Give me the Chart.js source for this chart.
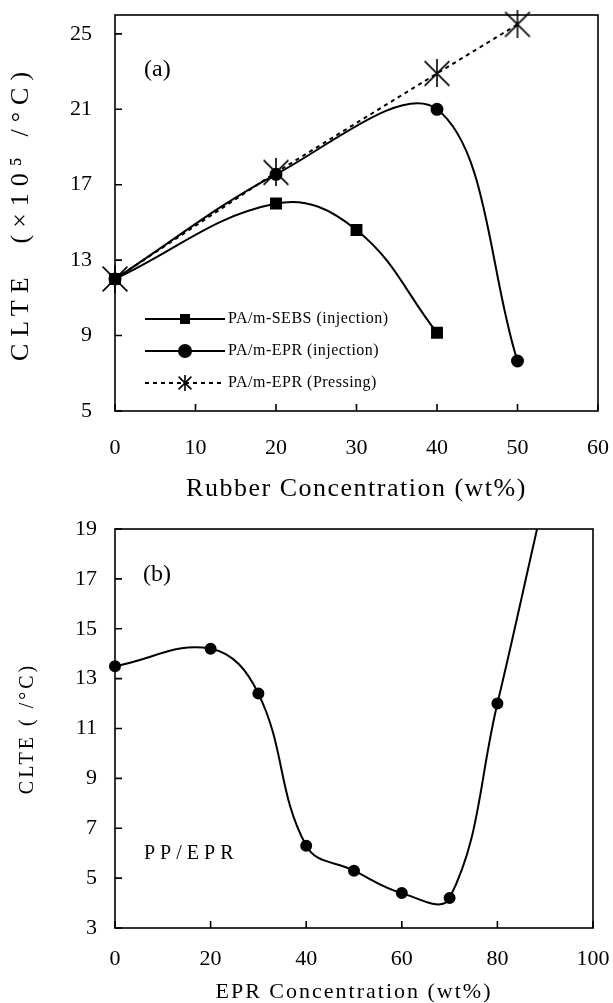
<!DOCTYPE html>
<html>
<head>
<meta charset="utf-8">
<script src="https://cdn.jsdelivr.net/npm/chart.js@4.4.0/dist/chart.umd.min.js"></script>
<style>
  body { margin: 0; background: #fff; overflow: hidden; }
  canvas { position: absolute; left: 0; }
  #chartA { top: 0; }
  #chartB { top: 505px; }
</style>
</head>
<body>
<canvas id="chartA" width="613" height="510"></canvas>
<canvas id="chartB" width="613" height="505"></canvas>
<script>
// (a) rubber content in PA blends
const sebsX = [0, 20, 30, 40];
const sebsY = [12.0, 16.0, 14.6, 9.15];
const eprInjX = [0, 20, 40, 50];
const eprInjY = [12.0, 17.55, 21.0, 7.65];
const eprPressX = [0, 20, 40, 50];
const eprPressY = [12.0, 17.65, 22.9, 25.5];
const clteTicksA = [5, 9, 13, 17, 21, 25];

// (b) PP/EPR; last point is where the curve leaves the frame
const eprConc = [0, 20, 30, 40, 50, 60, 70, 80, 88.3];
const ppEprClte = [13.5, 14.2, 12.4, 6.3, 5.3, 4.4, 4.2, 12.0, 19.0];

const serif = 'Liberation Serif';
const toXY = (xs, ys) => xs.map((x, i) => ({ x, y: ys[i] }));

function asterisk(size, lw) {
    const c = document.createElement('canvas');
    c.width = size;
    c.height = size;
    const g = c.getContext('2d');
    const m = lw;
    g.strokeStyle = '#000';
    g.lineWidth = lw;
    g.beginPath();
    g.moveTo(m, m); g.lineTo(size - m, size - m);
    g.moveTo(size - m, m); g.lineTo(m, size - m);
    g.moveTo(size / 2, 0); g.lineTo(size / 2, size);
    g.stroke();
    return c;
}

// draws title text with some tracking, like the scanned figure
function tracked(px) {
    return function (scale) {
        if (scale._tracked) return;
        const orig = scale.drawTitle.bind(scale);
        scale.drawTitle = function () {
            scale.ctx.letterSpacing = px;
            orig();
            scale.ctx.letterSpacing = '0px';
        };
        scale._tracked = true;
    };
}

// fixed axis sizes, no extra room for edge labels
function fixSize(w, h) {
    return function (s) {
        if (w) s.width = w;
        if (h) s.height = h;
        s.paddingLeft = s.paddingRight = s.paddingTop = s.paddingBottom = 0;
    };
}

const framePlugin = {
    id: 'frame',
    beforeDatasetsDraw(chart) {
        const { ctx, chartArea: a, scales } = chart;
        ctx.save();
        ctx.strokeStyle = '#000';
        ctx.lineWidth = 1.6;
        ctx.strokeRect(a.left, a.top, a.right - a.left, a.bottom - a.top);
        ctx.beginPath();
        scales.x.ticks.forEach(t => {
            const px = scales.x.getPixelForValue(t.value);
            ctx.moveTo(px, a.bottom);
            ctx.lineTo(px, a.bottom - 7);
        });
        scales.y.ticks.forEach(t => {
            const py = scales.y.getPixelForValue(t.value);
            ctx.moveTo(a.left, py);
            ctx.lineTo(a.left + 7, py);
        });
        ctx.stroke();
        ctx.restore();
    }
};

const notesPlugin = {
    id: 'notes',
    afterDraw(chart, args, opts) {
        const { ctx, chartArea: a } = chart;
        ctx.save();
        ctx.fillStyle = '#000';
        ctx.textBaseline = 'middle';
        (opts.items || []).forEach(n => {
            ctx.font = n.font;
            ctx.letterSpacing = n.spacing || '0px';
            ctx.fillText(n.text, a.left + n.dx, a.top + n.dy);
        });
        ctx.restore();
    }
};

// legend drawn inside plot (a): line, marker in the middle, label
const inlineLegend = {
    id: 'inlineLegend',
    afterDraw(chart, args, opts) {
        const { ctx, chartArea: a } = chart;
        ctx.save();
        ctx.font = '16px "' + serif + '"';
        ctx.textBaseline = 'middle';
        ctx.letterSpacing = '0.5px';
        chart.data.datasets.forEach((ds, i) => {
            const y = a.top + opts.top + i * opts.gap;
            const x0 = a.left + opts.left;
            const x1 = x0 + opts.lineLen;
            const xm = (x0 + x1) / 2;
            ctx.strokeStyle = '#000';
            ctx.fillStyle = '#000';
            ctx.lineWidth = 2;
            ctx.setLineDash(ds.borderDash || []);
            ctx.beginPath();
            ctx.moveTo(x0, y);
            ctx.lineTo(x1, y);
            ctx.stroke();
            ctx.setLineDash([]);
            if (ds.pointStyle === 'rect') {
                ctx.fillRect(xm - 5, y - 5, 10, 10);
            } else if (ds.pointStyle === 'circle') {
                ctx.beginPath();
                ctx.arc(xm, y, 7, 0, Math.PI * 2);
                ctx.fill();
            } else {
                ctx.drawImage(opts.star, xm - 8, y - 8);
            }
            ctx.fillText(ds.label, x1 + 3, y);
        });
        ctx.restore();
    }
};

const tickFont = { family: serif, size: 22 };

new Chart(document.getElementById('chartA'), {
    type: 'line',
    data: {
        datasets: [{
            label: 'PA/m-SEBS (injection)',
            data: toXY(sebsX, sebsY),
            borderColor: '#000',
            backgroundColor: '#000',
            borderWidth: 2,
            pointStyle: 'rect',
            pointRadius: 7,
            tension: 0.4
        }, {
            label: 'PA/m-EPR (injection)',
            data: toXY(eprInjX, eprInjY),
            borderColor: '#000',
            backgroundColor: '#000',
            borderWidth: 2,
            pointStyle: 'circle',
            pointRadius: 5.5,
            tension: 0.35
        }, {
            label: 'PA/m-EPR (Pressing)',
            data: toXY(eprPressX, eprPressY),
            borderColor: '#000',
            backgroundColor: '#000',
            borderWidth: 2,
            borderDash: [4, 4],
            pointStyle: asterisk(28, 1.6),
            tension: 0
        }]
    },
    options: {
        responsive: false,
        animation: false,
        events: [],
        clip: false,
        layout: { autoPadding: false, padding: { left: 0, top: 15, right: 15, bottom: 0 } },
        plugins: {
            legend: { display: false },
            tooltip: { enabled: false },
            notes: { items: [{ text: '(a)', font: '24px "' + serif + '"', dx: 29, dy: 55 }] },
            inlineLegend: { left: 30, top: 304, gap: 32, lineLen: 80, star: asterisk(16, 1.6) }
        },
        scales: {
            x: {
                type: 'linear',
                min: 0,
                max: 60,
                afterFit: fixSize(0, 99),
                afterUpdate: tracked('1.5px'),
                grid: { display: false },
                border: { display: false },
                ticks: { stepSize: 10, color: '#000', font: tickFont, padding: 16, maxRotation: 0, autoSkip: false },
                title: {
                    display: true,
                    text: 'Rubber Concentration (wt%)',
                    color: '#000',
                    font: { family: serif, size: 26 },
                    padding: { top: 0, bottom: 5 }
                }
            },
            y: {
                min: 5,
                max: 26,
                afterFit: fixSize(115, 0),
                afterUpdate: tracked('7px'),
                afterBuildTicks: s => { s.ticks = clteTicksA.map(v => ({ value: v })); },
                grid: { display: false },
                border: { display: false },
                ticks: { color: '#000', font: tickFont, padding: 15 },
                title: {
                    display: true,
                    text: 'CLTE  (×10⁵ /°C)',
                    color: '#000',
                    font: { family: serif, size: 26 },
                    padding: { top: 6, bottom: 0 }
                }
            }
        }
    },
    plugins: [framePlugin, notesPlugin, inlineLegend]
});

new Chart(document.getElementById('chartB'), {
    type: 'line',
    data: {
        datasets: [{
            label: 'PP/EPR',
            data: toXY(eprConc, ppEprClte),
            borderColor: '#000',
            backgroundColor: '#000',
            borderWidth: 2,
            pointStyle: 'circle',
            pointRadius: ctx => ctx.dataIndex === eprConc.length - 1 ? 0 : 5,
            tension: 0.4,
            clip: { left: 10, top: 0, right: 0, bottom: 0 }
        }]
    },
    options: {
        responsive: false,
        animation: false,
        events: [],
        layout: { autoPadding: false, padding: { left: 0, top: 24, right: 20, bottom: 0 } },
        plugins: {
            legend: { display: false },
            tooltip: { enabled: false },
            notes: {
                items: [
                    { text: '(b)', font: '24px "' + serif + '"', dx: 28, dy: 46 },
                    { text: 'PP/EPR', font: '20px "' + serif + '"', dx: 29, dy: 325, spacing: '5px' }
                ]
            }
        },
        scales: {
            x: {
                type: 'linear',
                min: 0,
                max: 100,
                afterFit: fixSize(0, 82),
                afterUpdate: tracked('2px'),
                grid: { display: false },
                border: { display: false },
                ticks: { stepSize: 20, color: '#000', font: tickFont, padding: 10, maxRotation: 0, autoSkip: false },
                title: {
                    display: true,
                    text: 'EPR Concentration (wt%)',
                    color: '#000',
                    font: { family: serif, size: 22 },
                    padding: { top: 0, bottom: 5 }
                }
            },
            y: {
                min: 3,
                max: 19,
                afterFit: fixSize(115, 0),
                afterUpdate: tracked('3px'),
                grid: { display: false },
                border: { display: false },
                ticks: { stepSize: 2, color: '#000', font: tickFont, padding: 10 },
                title: {
                    display: true,
                    text: 'CLTE ( /°C)',
                    color: '#000',
                    font: { family: serif, size: 20 },
                    padding: { top: 16, bottom: 0 }
                }
            }
        }
    },
    plugins: [framePlugin, notesPlugin]
});
</script>
</body>
</html>
